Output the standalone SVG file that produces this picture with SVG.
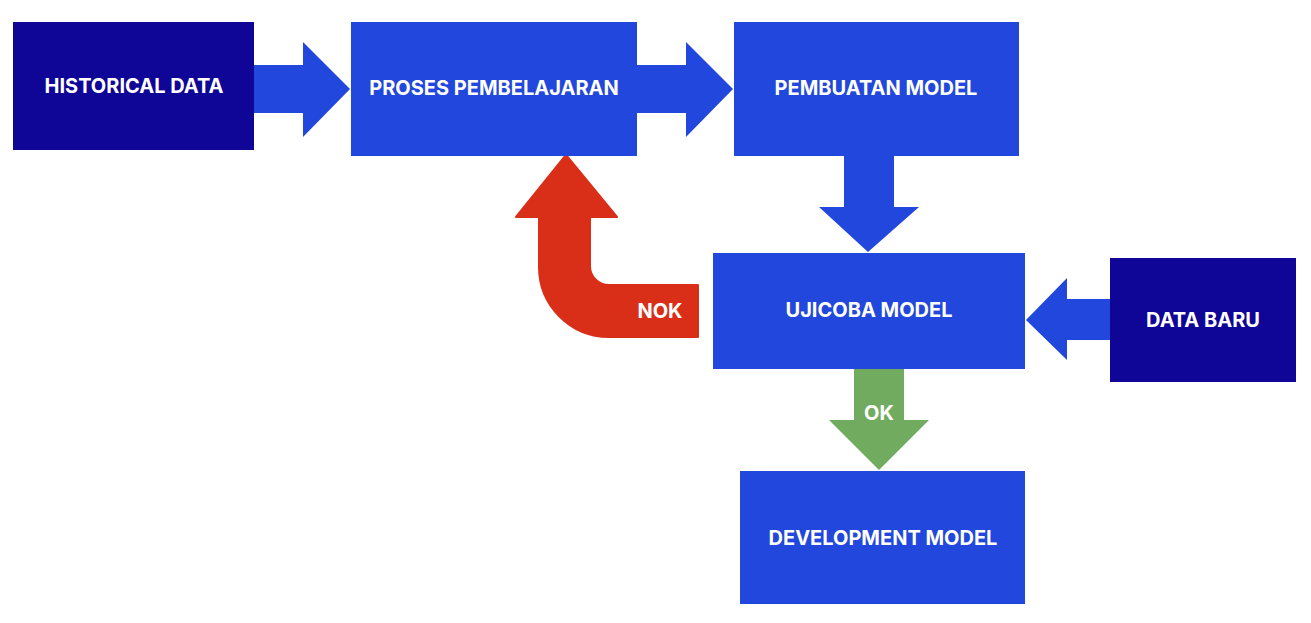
<svg xmlns="http://www.w3.org/2000/svg" width="1311" height="623" viewBox="0 0 1311 623">
<style>
.dark{fill:#0f0596}
.blue{fill:#2147dc}
.t{fill:#ffffff;font-family:Inter,"Liberation Sans",sans-serif;font-weight:700;font-size:20px;text-anchor:middle}
</style>
<rect width="1311" height="623" fill="#ffffff"/>
<g id="connectors">
<polygon id="c1" class="blue" points="254,65 303,65 303,42 350,89 303,137 303,113 254,113"/>
<polygon id="c2" class="blue" points="637,65 686,65 686,42 733,89 686,137 686,113 637,113"/>
<polygon id="c3" class="blue" points="844,156 894,156 894,207 919,207 868,252 819,207 844,207"/>
<polygon id="c4" class="blue" points="1110,299 1067,299 1067,278 1026,320 1067,360 1067,340 1110,340"/>
<g id="c5">
<polygon fill="#71ab5f" points="854,369 904,369 904,420 929,420 879,470 829,420 854,420"/>
<text class="t" x="879" y="420">OK</text>
</g>
<g id="c6">
<path fill="#d92f19" stroke="#d92f19" stroke-width="2" stroke-linejoin="round" d="M566,155 L617,217 L590,217 L590,266 A19,19 0 0 0 609,285 L698,285 L698,337 L609,337 A70,70 0 0 1 539,267 L539,217 L516,217 Z"/>
<text class="t" x="660" y="318">NOK</text>
</g>
</g>
<g id="historical"><rect class="dark" x="13" y="22" width="241" height="128"/><text class="t" x="134" y="93">HISTORICAL DATA</text></g>
<g id="proses"><rect class="blue" x="351" y="22" width="286" height="134"/><text class="t" x="494" y="95">PROSES PEMBELAJARAN</text></g>
<g id="pembuatan"><rect class="blue" x="734" y="22" width="285" height="134"/><text class="t" x="876" y="95">PEMBUATAN MODEL</text></g>
<g id="ujicoba"><rect class="blue" x="713" y="253" width="312" height="116"/><text class="t" x="869" y="317">UJICOBA MODEL</text></g>
<g id="databaru"><rect class="dark" x="1110" y="258" width="186" height="124"/><text class="t" x="1203" y="327">DATA BARU</text></g>
<g id="development"><rect class="blue" x="740" y="471" width="285" height="133"/><text class="t" x="883" y="545">DEVELOPMENT MODEL</text></g>
</svg>
